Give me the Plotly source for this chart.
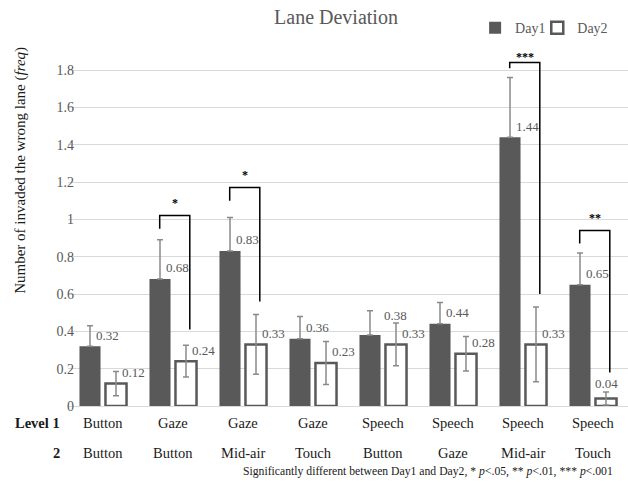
import plotly.graph_objects as go

categories_l1 = ["Button", "Gaze", "Gaze", "Gaze", "Speech", "Speech", "Speech", "Speech"]
categories_l2 = ["Button", "Button", "Mid-air", "Touch", "Button", "Gaze", "Mid-air", "Touch"]
day1 = [0.32, 0.68, 0.83, 0.36, 0.38, 0.44, 1.44, 0.65]
day2 = [0.12, 0.24, 0.33, 0.23, 0.33, 0.28, 0.33, 0.04]
day1_err = [0.11, 0.21, 0.18, 0.12, 0.13, 0.115, 0.32, 0.17]
day2_err = [0.065, 0.085, 0.16, 0.115, 0.115, 0.092, 0.20, 0.035]
y_ticks = [0, 0.2, 0.4, 0.6, 0.8, 1.0, 1.2, 1.4, 1.6, 1.8]
y_ticktext = ["0", "0.2", "0.4", "0.6", "0.8", "1", "1.2", "1.4", "1.6", "1.8"]

# significance brackets
sig_index = [1, 2, 6, 7]
sig_marks = ["*", "*", "***", "**"]
bracket_top = [1.02, 1.17, 1.84, 0.94]
bracket_left_end = [0.95, 1.10, 1.81, 0.87]
bracket_right_end = [0.41, 0.56, 0.60, 0.18]

FONT = "Liberation Serif, Times New Roman, serif"
DARK = "#595959"
ERRC = "#8a8a8a"
TXT = "#1a1a1a"

x = list(range(len(day1)))

fig = go.Figure()
fig.add_trace(go.Bar(
    x=x, y=day1, name="Day1", legend="legend", showlegend=True,
    marker=dict(color=DARK, line=dict(width=0)),
    error_y=dict(type="data", symmetric=False, array=day1_err,
                 arrayminus=[0] * len(day1), color=ERRC, thickness=1.5, width=3),
))
fig.add_trace(go.Bar(
    x=x, y=day2, name="Day2", legend="legend2", showlegend=True,
    marker=dict(color="white", line=dict(color=DARK, width=2.5)),
    error_y=dict(type="data", array=day2_err, color=ERRC, thickness=1.5, width=3),
))

BAR_OFF = 0.19  # half spacing of grouped bars in category units
LBL = dict(family=FONT, size=13, color=DARK)
CAT = dict(family=FONT, size=14.5, color=TXT)
annotations = []
for i in x:
    # Day1 value label (one label nudged right/up to avoid the neighbouring error bar)
    dy1, dx1 = (0.107, 12) if i == 4 else (0.06, 4)
    annotations.append(dict(x=i - BAR_OFF, y=day1[i] + dy1, text=f"{day1[i]:.2f}",
                            xanchor="left", yanchor="middle", xshift=dx1, showarrow=False, font=LBL))
    if i == 7:
        annotations.append(dict(x=i + BAR_OFF, y=day2[i] + 0.083, text=f"{day2[i]:.2f}",
                                xanchor="center", yanchor="middle", showarrow=False, font=LBL))
    else:
        annotations.append(dict(x=i + BAR_OFF, y=day2[i] + 0.06, text=f"{day2[i]:.2f}",
                                xanchor="left", yanchor="middle", xshift=4, showarrow=False, font=LBL))
    annotations.append(dict(x=i, y=-0.047, yref="paper", text=categories_l1[i], showarrow=False,
                            xanchor="center", yanchor="middle", font=CAT))
    annotations.append(dict(x=i, y=-0.128, yref="paper", text=categories_l2[i], showarrow=False,
                            xanchor="center", yanchor="middle", font=CAT))

annotations.append(dict(x=0, xref="paper", xshift=-6, y=-0.047, yref="paper", text="<b>Level 1</b>",
                        xanchor="right", yanchor="middle", showarrow=False, font=CAT))
annotations.append(dict(x=0, xref="paper", xshift=-6, y=-0.128, yref="paper", text="<b>2</b>",
                        xanchor="right", yanchor="middle", showarrow=False, font=CAT))
annotations.append(dict(x=1, xref="paper", xshift=-13, y=-0.179, yref="paper",
                        text="Significantly different between Day1 and Day2, * <i>p</i><.05, ** <i>p</i><.01, *** <i>p</i><.001",
                        xanchor="right", yanchor="middle", showarrow=False,
                        font=dict(family=FONT, size=11.7, color=TXT)))
annotations.append(dict(x=0, xref="paper", xshift=-47, y=1.26, yref="y",
                        text="Number of invaded the wrong lane (<i>freq</i>)", textangle=-90,
                        xanchor="center", yanchor="middle", showarrow=False,
                        font=dict(family=FONT, size=15, color=TXT)))

shapes = []
for k, i in enumerate(sig_index):
    xl = i - BAR_OFF
    xr = i + BAR_OFF + 0.05
    shapes.append(dict(type="path", xref="x", yref="y",
                       path=f"M{xl},{bracket_left_end[k]} L{xl},{bracket_top[k]} L{xr},{bracket_top[k]} L{xr},{bracket_right_end[k]}",
                       line=dict(color="black", width=1.5)))
    annotations.append(dict(x=(xl + xr) / 2, y=bracket_top[k], text=f"<b>{sig_marks[k]}</b>",
                            yanchor="bottom", yshift=-3 if bracket_top[k] > 1.8 else 4,
                            showarrow=False, font=dict(family=FONT, size=12, color="black")))

legend_style = dict(orientation="h", xanchor="left", y=1.038, yanchor="middle",
                    font=dict(family=FONT, size=14, color=DARK), itemwidth=30,
                    bgcolor="rgba(0,0,0,0)", visible=True)

fig.update_layout(
    width=628, height=483,
    margin=dict(l=68, r=0, t=42, b=77),
    paper_bgcolor="white", plot_bgcolor="white",
    showlegend=True,
    barmode="group", bargap=0.257, bargroupgap=0.19,
    title=dict(text="Lane Deviation", x=0.535, xanchor="center", y=0.965, yanchor="middle",
               font=dict(family=FONT, size=20, color=DARK)),
    legend=dict(x=0.727, **legend_style),
    legend2=dict(x=0.838, **legend_style),
    xaxis=dict(range=[-0.5, 7.5], showticklabels=False, showgrid=False, zeroline=False,
               showline=False, ticks=""),
    yaxis=dict(range=[0, 1.95], tickvals=y_ticks, ticktext=y_ticktext,
               showgrid=True, gridcolor="#d9d9d9", gridwidth=1, zeroline=True,
               zerolinecolor="#d9d9d9", zerolinewidth=1, showline=False,
               ticks="", ticklabelstandoff=0,
               tickfont=dict(family=FONT, size=14, color=DARK)),
    annotations=annotations, shapes=shapes,
)
try:
    fig.update_yaxes(ticklabelstandoff=-7)
except ValueError:
    pass

fig.write_html("out.html")
